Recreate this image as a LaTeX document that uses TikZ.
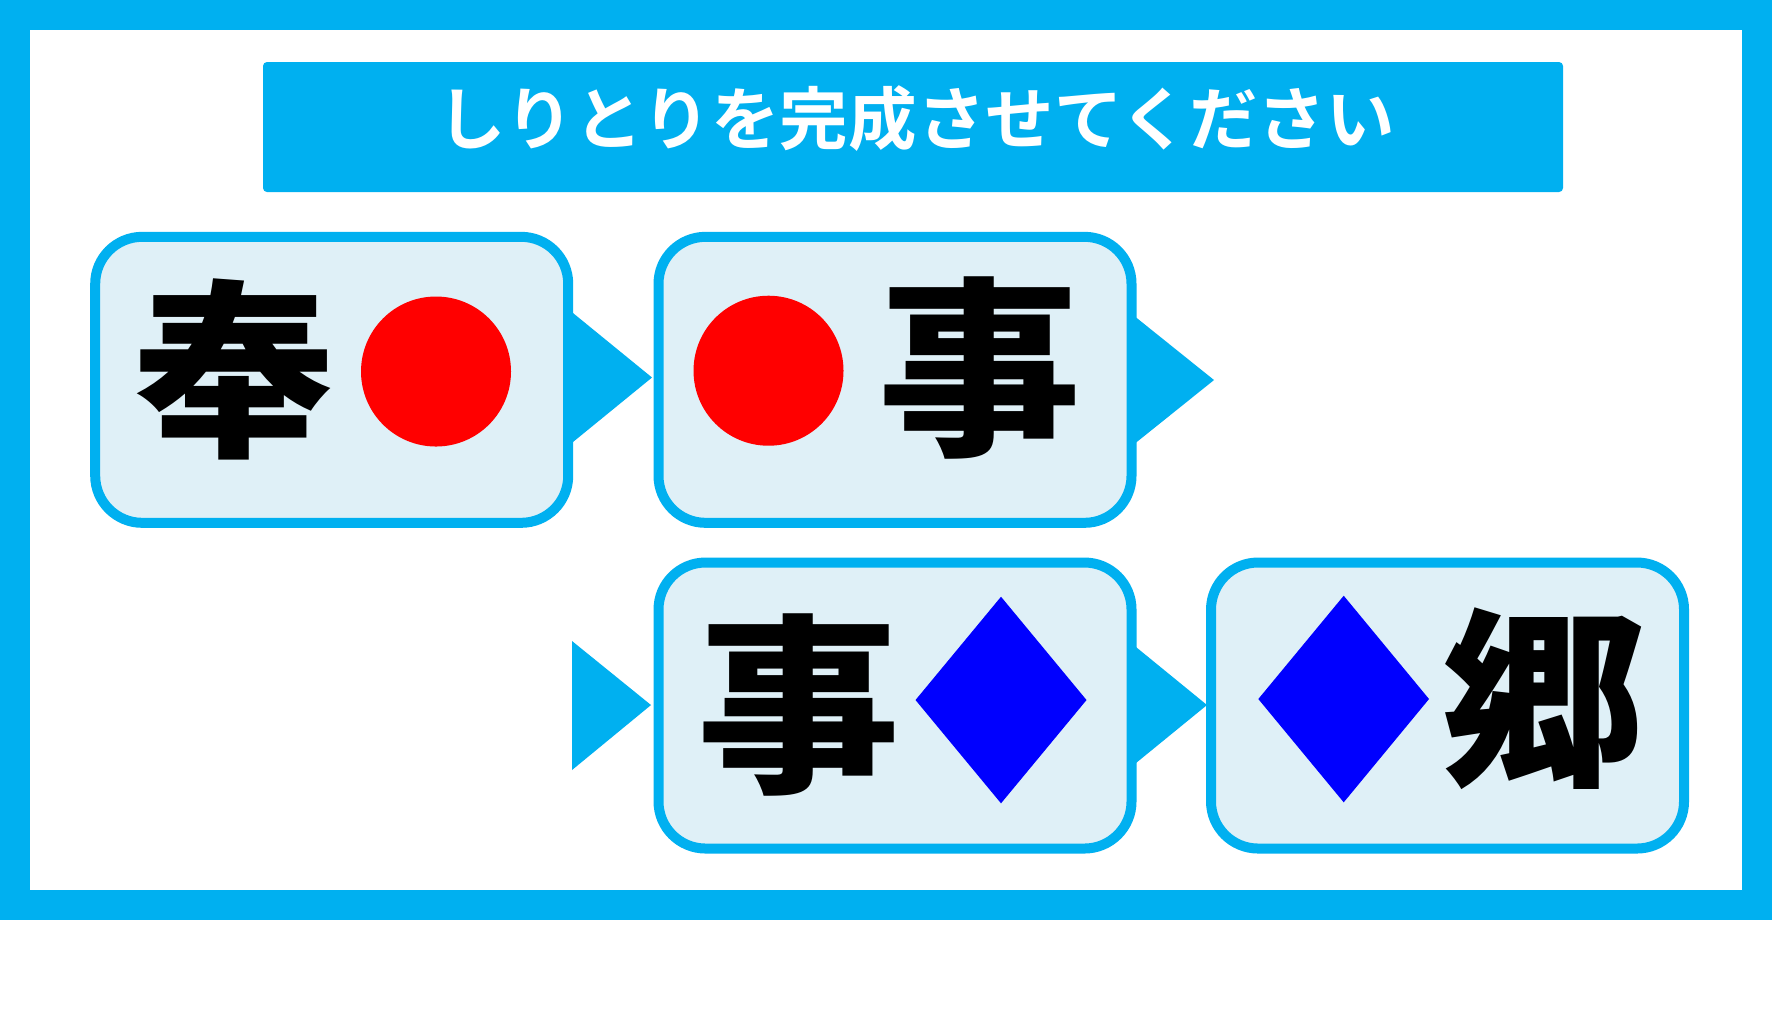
\documentclass[tikz,border=0pt]{standalone}
\usepackage{fontspec}
\newfontfamily\jpblack{Noto Sans CJK JP Black}[FakeStretch=1.06]
\newfontfamily\jpbold{Noto Sans CJK JP Bold}
\definecolor{skyblue}{HTML}{00B0F0}
\definecolor{paleblue}{HTML}{DFF0F7}
\tikzset{
  box/.style={draw=skyblue,fill=paleblue,line width=1mm,rounded corners=4.7mm,
    minimum width=47.3mm,minimum height=28.6mm},
  kanji/.style={font=\jpblack\fontsize{54.5}{54.5}\selectfont,inner sep=0pt},
  heading/.style={font=\jpbold\fontsize{19.5}{19.5}\selectfont,text=white,inner sep=0pt},
}

\begin{document}
\begin{tikzpicture}[x=0.1mm,y=-0.1mm]
    \useasboundingbox (0,0) rectangle (1772,1008);
    \fill[skyblue] (0,0) rectangle (1772,920);
    \fill[white] (30,30) rectangle (1742,890);
    % title
    \fill[skyblue,rounded corners=0.4mm] (263,62) rectangle (1563,192);
    \node[heading] (title) at (916,119) {しりとりを完成させてください};
    % arrows
    \fill[skyblue] (565,306.5) -- (652,377.5) -- (565,448.5) -- cycle;
    \fill[skyblue] (1128,311) -- (1214,380) -- (1128,449) -- cycle;
    \fill[skyblue] (572,641) -- (651,705) -- (572,770) -- cycle;
    \fill[skyblue] (1128,640.5) -- (1207,705) -- (1128,769.5) -- cycle;
    % boxes
    \node[box] (b1) at (331.7,379.8) {};
    \node[box] (b2) at (895,379.8) {};
    \node[box] (b3) at (895,705.5) {};
    \node[box] (b4) at (1447.5,705.5) {};
    % box 1
    \node[kanji] (k1) at (234,369) {奉};
    \fill[red] (436,371.5) circle (7.5mm);
    % box 2
    \fill[red] (768.5,370.7) circle (7.5mm);
    \node[kanji] (k2) at (979.5,368) {事};
    % box 3
    \node[kanji] (k3) at (799,705) {事};
    \fill[blue] (1001,596.7) -- (1086.5,700) -- (1001,803.3) -- (915.5,700) -- cycle;
    % box 4
    \fill[blue] (1343.7,595.7) -- (1429,699) -- (1343.7,802.3) -- (1258.3,699) -- cycle;
    \node[kanji] (k4) at (1543.5,698.5) {郷};
\end{tikzpicture}
\end{document}
